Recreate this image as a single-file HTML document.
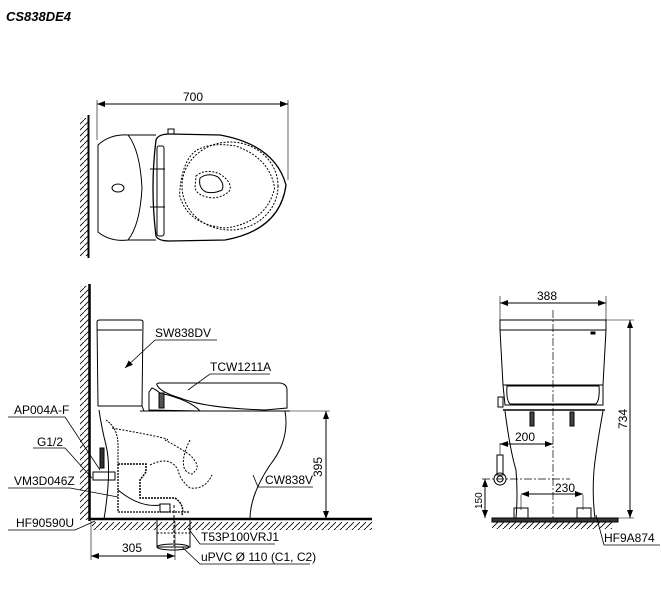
<!DOCTYPE html>
<html><head><meta charset="utf-8"><style>
html,body{margin:0;padding:0;background:#fff;}
svg{display:block;}
text{font-family:"Liberation Sans",sans-serif;font-size:12px;fill:#000;}
</style></head><body>
<svg width="662" height="607" viewBox="0 0 662 607" xmlns="http://www.w3.org/2000/svg">
<defs>
<pattern id="h" width="6" height="6" patternUnits="userSpaceOnUse"><path d="M0 6 L6 0" stroke="#000" stroke-width="0.8"/></pattern>
<marker id="a" markerWidth="8" markerHeight="6" refX="8" refY="3" orient="auto-start-reverse" markerUnits="userSpaceOnUse"><path d="M0 0 L8 3 L0 6z" fill="#000"/></marker>
</defs>
<text x="6" y="21" style="font-weight:bold;font-style:italic;font-size:13px">CS838DE4</text>

<!-- TOP VIEW -->
<g fill="none" stroke="#000">
<rect x="80" y="118" width="8" height="138" fill="url(#h)" stroke="none"/>
<line x1="88.5" y1="115" x2="88.5" y2="258" stroke-width="2"/>
<line x1="97" y1="104" x2="288" y2="104" marker-start="url(#a)" marker-end="url(#a)"/>
<line x1="97" y1="100" x2="97" y2="140" stroke-width="0.6"/>
<line x1="288" y1="100" x2="288" y2="180" stroke-width="0.6"/>
<path d="M98 145 Q110 134 128 135 Q140 150 142 188 Q140 225 128 240 Q110 242 98 232 Z"/>
<line x1="128" y1="135" x2="156" y2="135"/><line x1="128" y1="240" x2="156" y2="240"/>
<ellipse cx="118" cy="188" rx="6" ry="4"/>
<path d="M156 140 Q158 134 170 134 L220 135 Q275 145 286 185 Q280 230 225 240 L170 241 Q158 241 156 236 Q150 188 156 140 Z" stroke-width="1.3"/>
<rect x="157" y="146" width="7" height="90" rx="2"/>
<rect x="168" y="129" width="6" height="5"/>
<line x1="150" y1="169" x2="165" y2="169"/><line x1="150" y1="207" x2="165" y2="207"/>
<ellipse cx="230" cy="186" rx="48" ry="44" stroke-dasharray="2 1.5"/>
<path d="M200 150 Q215 142 240 146 Q275 158 280 188 Q272 222 230 228 Q190 225 182 195 Q184 160 200 150 Z" stroke-dasharray="2 1.5" transform="translate(3,0) scale(0.97 1)"/>
<path d="M196 176 Q205 168 220 174 Q232 182 230 190 Q225 197 212 198 Q197 196 195 188 Z" stroke-dasharray="2 1.5"/>
<path d="M200 178 Q208 172 218 177 Q225 184 222 190 Q214 194 206 192 Q198 188 200 178 Z"/>
</g>
<text x="183" y="101">700</text>

<!-- SIDE VIEW -->
<g fill="none" stroke="#000">
<rect x="80" y="286" width="9" height="234" fill="url(#h)" stroke="none"/>
<line x1="89.5" y1="284" x2="89.5" y2="521" stroke-width="2.5"/>
<rect x="92" y="522" width="280" height="8" fill="url(#h)" stroke="none"/>
<line x1="89" y1="519" x2="372" y2="519" stroke-width="2.5"/>
<path d="M97 322 Q97 320 100 320 L140 320 Q143 320 143 322 L142 406 L98 406 Z"/>
<line x1="97" y1="330" x2="142" y2="330"/>
<path d="M98 406 L142 406 L144 411"/>
<path d="M149 392 L149 410 L200 411 Q190 400 160 393 Q155 389 152 388 Z"/>
<path d="M157 385 Q156 383 160 383 L280 383 Q287 384 287 390 L287 408 L265 410 Q205 408 180 398 Q160 392 157 385 Z"/>
<line x1="140" y1="411" x2="290" y2="411"/>
<path d="M285 411 Q290 440 270 465 Q250 495 250 519"/>
<path d="M99 410 Q102 430 106 445 Q112 470 104 519"/>
<path d="M106 420 Q118 428 118 445 L118 465" stroke-dasharray="2 1"/>
<path d="M112 428 Q180 440 165 440 Q175 445 190 455 Q200 465 196 470" stroke-dasharray="2 1.5"/>
<path d="M190 440 Q180 460 185 470 Q193 478 195 470" stroke-dasharray="2 1.5"/>
<path d="M150 465 Q170 455 178 470 Q180 480 190 488 Q205 490 212 475" stroke-dasharray="2 1.5"/>
<path d="M118 464 L146 464 L146 472 L140 480 L140 498 L175 498 Q185 505 182 515" stroke-width="1.5" stroke-dasharray="2 1"/>
<path d="M118 464 L118 512 L190 512" stroke-width="1.3" stroke-dasharray="2 1"/>
<path d="M118 490 Q140 508 160 505" />
<rect x="160" y="504" width="10" height="8"/>
<rect x="100" y="448" width="4" height="20" fill="#333"/>
<rect x="93" y="472" width="22" height="8"/>
<rect x="157" y="519" width="33" height="28"/>
<ellipse cx="173" cy="547" rx="16" ry="3"/>
<line x1="157" y1="533" x2="190" y2="533" stroke-dasharray="2 1.5"/>
<line x1="174" y1="505" x2="174" y2="546" stroke-dasharray="3 2"/>
<rect x="159" y="393" width="5" height="15" fill="#555"/>
<line x1="285" y1="411" x2="330" y2="411" stroke-width="0.6"/>
<line x1="252" y1="519" x2="330" y2="519" stroke-width="0.6"/>
<line x1="326" y1="411" x2="326" y2="519" marker-start="url(#a)" marker-end="url(#a)"/>
<line x1="91" y1="521" x2="91" y2="560" stroke-width="0.6"/>
<line x1="175" y1="521" x2="175" y2="560" stroke-width="0.6"/>
<line x1="91" y1="556" x2="175" y2="556" marker-start="url(#a)" marker-end="url(#a)"/>
<polyline points="217,340 155,340 125,368" marker-end="url(#a)" stroke-width="0.8"/>
<polyline points="270,374 210,374 188,390" stroke-width="0.8"/>
<polyline points="8,417 65,417 100,470" stroke-width="0.8"/>
<polyline points="33,448 65,448 92,478" stroke-width="0.8"/>
<polyline points="8,488 70,488 118,497" stroke-width="0.8"/>
<polyline points="313,487 258,487 253,475" stroke-width="0.8"/>
<polyline points="8,530 75,530 95,521" stroke-width="0.8"/>
<polyline points="275,544 200,544 188,528" stroke-width="0.8"/>
<polyline points="310,564 200,564 182,547" stroke-width="0.8"/>
</g>
<text x="155" y="337">SW838DV</text>
<text x="210" y="371">TCW1211A</text>
<text x="14" y="414">AP004A-F</text>
<text x="37" y="446">G1/2</text>
<text x="14" y="485">VM3D046Z</text>
<text x="265" y="484">CW838V</text>
<text x="16" y="527">HF90590U</text>
<text x="201" y="541">T53P100VRJ1</text>
<text x="201" y="561">uPVC Ø 110 (C1, C2)</text>
<text x="122" y="552">305</text>
<text x="0" y="0" transform="translate(322,477) rotate(-90)">395</text>

<!-- FRONT VIEW -->
<g fill="none" stroke="#000">
<line x1="500" y1="296" x2="500" y2="320" stroke-width="0.6"/>
<line x1="606" y1="296" x2="606" y2="320" stroke-width="0.6"/>
<line x1="500" y1="303" x2="606" y2="303" marker-start="url(#a)" marker-end="url(#a)"/>
<rect x="500" y="320" width="106" height="10"/>
<path d="M500 330 L503 385 M606 330 L603 385"/>
<rect x="591" y="332" width="4" height="2" fill="#000"/>
<path d="M503 385 L603 385 L603 405 L505 405 Z"/>
<path d="M507 386 L599 386 Q600 400 596 404 L510 404 Q506 400 507 386 Z"/>
<rect x="498" y="397" width="5" height="10"/>
<line x1="503" y1="410" x2="605" y2="410" stroke-width="1.5"/>
<path d="M505 411 Q510 450 516 470 Q518 495 516 518"/>
<path d="M603 411 Q596 450 594 470 Q592 495 595 518"/>
<line x1="553" y1="310" x2="553" y2="520" stroke-dasharray="8 2 2 2" stroke-width="0.7"/>
<rect x="530" y="412" width="4" height="14" fill="#444"/><rect x="570" y="412" width="4" height="14" fill="#444"/>
<line x1="606" y1="320" x2="634" y2="320" stroke-width="0.6"/>
<line x1="597" y1="518" x2="634" y2="518" stroke-width="0.6"/>
<line x1="630" y1="320" x2="630" y2="518" marker-start="url(#a)" marker-end="url(#a)"/>
<rect x="492" y="518" width="126" height="4" fill="#333"/>
<rect x="492" y="522" width="120" height="7" fill="url(#h)" stroke="none"/>
<line x1="500" y1="443" x2="500" y2="455" stroke-width="0.6"/>
<line x1="500" y1="444" x2="553" y2="444" marker-start="url(#a)" marker-end="url(#a)"/>
<rect x="497" y="455" width="6" height="20"/>
<circle cx="500" cy="479" r="6"/><circle cx="500" cy="479" r="3"/>
<line x1="482" y1="479" x2="570" y2="479" stroke-dasharray="8 2 2 2" stroke-width="0.7"/>
<line x1="485" y1="479" x2="485" y2="518" marker-start="url(#a)" marker-end="url(#a)"/>
<line x1="521" y1="495" x2="521" y2="510" stroke-width="0.6"/>
<line x1="583" y1="495" x2="583" y2="510" stroke-width="0.6"/>
<line x1="521" y1="494" x2="583" y2="494" marker-start="url(#a)" marker-end="url(#a)"/>
<rect x="514" y="508" width="14" height="10"/><rect x="577" y="508" width="14" height="10"/>
<polyline points="596,515 604,545 660,545" stroke-width="0.8"/>
</g>
<text x="537" y="300">388</text>
<text x="515" y="441">200</text>
<text x="555" y="492">230</text>
<text x="0" y="0" transform="translate(627,429) rotate(-90)">734</text>
<text x="0" y="0" transform="translate(482,509) rotate(-90)" style="font-size:10px">150</text>
<text x="604" y="542">HF9A874</text>
</svg>
</body></html>
